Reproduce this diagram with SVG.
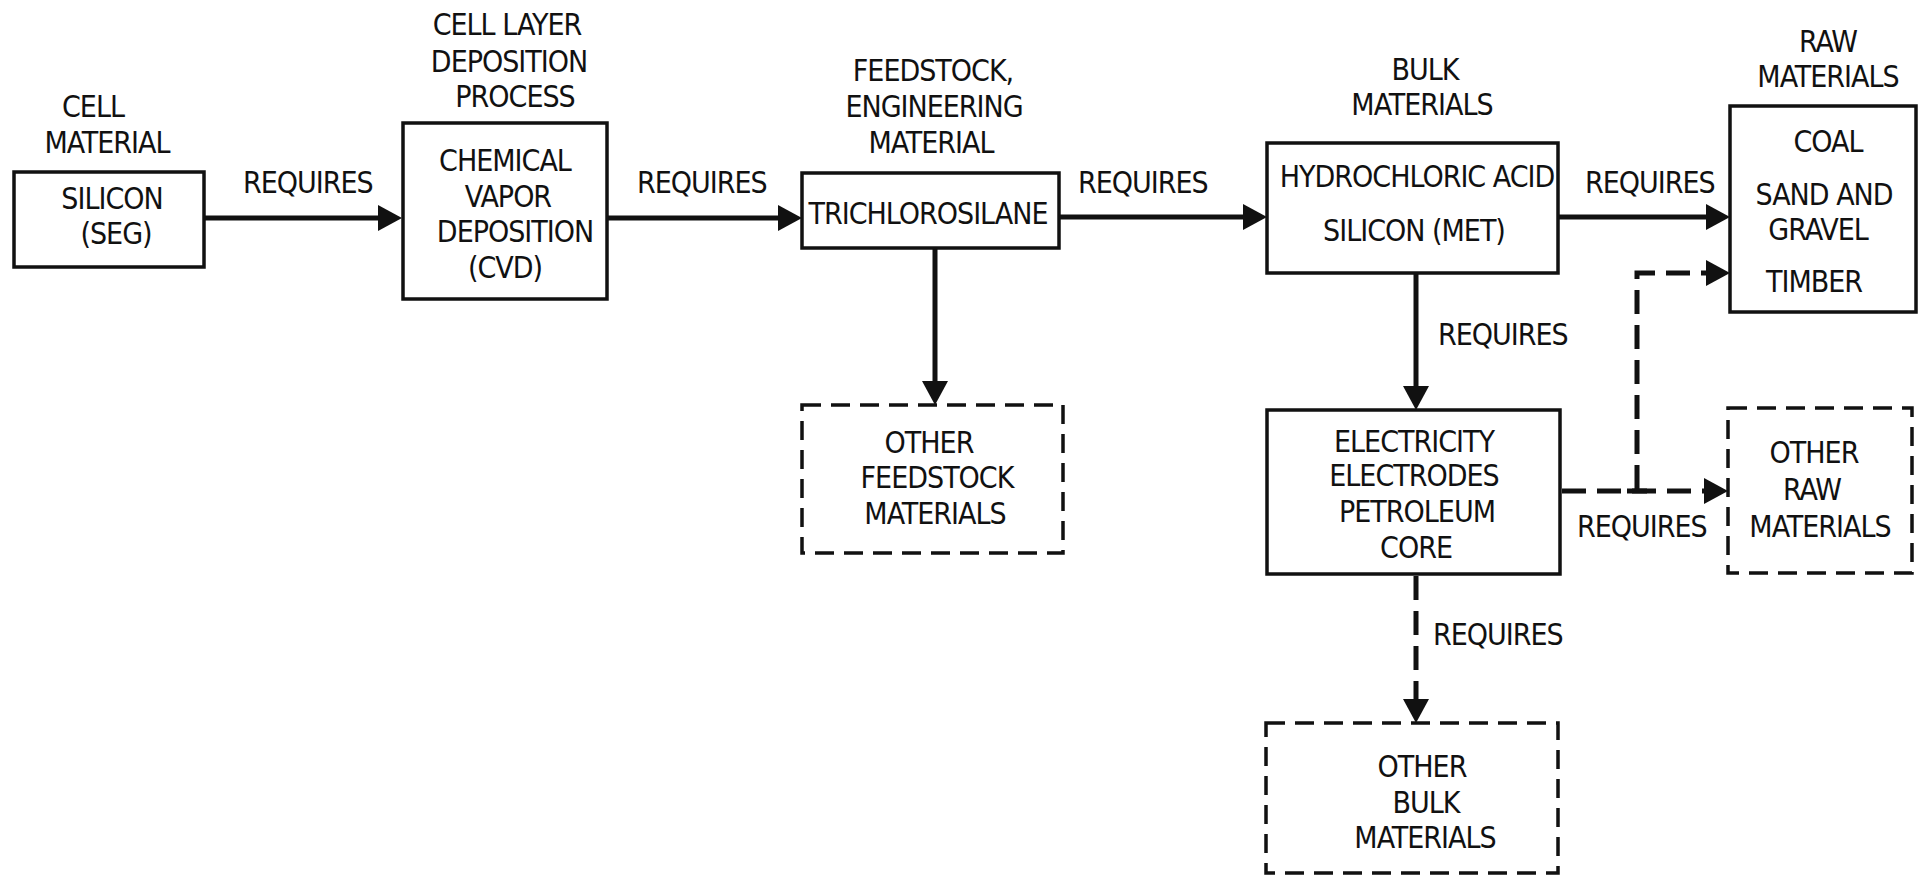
<svg xmlns="http://www.w3.org/2000/svg" width="1922" height="878" viewBox="0 0 1922 878">
  <style>
    text { font-family: "Liberation Sans Narrow", "DejaVu Sans Condensed", "Liberation Sans", sans-serif; font-size: 30px; letter-spacing: -1px; fill: #111; text-anchor: middle; }
    .lbl { text-anchor: start; }
    .box { fill: #fff; stroke: #111; stroke-width: 3.5; }
    .dbox { fill: #fff; stroke: #111; stroke-width: 3.5; stroke-dasharray: 19 10; }
    .conn { fill: none; stroke: #111; stroke-width: 5; }
    .dash { stroke-dasharray: 24 11; }
  </style>
  <defs>
    <marker id="arrow" viewBox="0 0 24 26" refX="4" refY="13" markerWidth="24" markerHeight="26" markerUnits="userSpaceOnUse" orient="auto">
      <path d="M0,0 L24,13 L0,26 Z" fill="#111"/>
    </marker>
  </defs>

  <rect width="1922" height="878" fill="#fff"/>

  <!-- connectors (lines stop 20px short; the marker carries the tip) -->
  <g id="connectors">
    <line class="conn" x1="204" y1="218" x2="382" y2="218" marker-end="url(#arrow)"/>
    <line class="conn" x1="607" y1="218" x2="782" y2="218" marker-end="url(#arrow)"/>
    <line class="conn" x1="1059" y1="217" x2="1247" y2="217" marker-end="url(#arrow)"/>
    <line class="conn" x1="1558" y1="217" x2="1710" y2="217" marker-end="url(#arrow)"/>
    <line class="conn" x1="935" y1="248" x2="935" y2="385" marker-end="url(#arrow)"/>
    <line class="conn" x1="1416" y1="273" x2="1416" y2="390" marker-end="url(#arrow)"/>
    <line class="conn dash" x1="1562" y1="491" x2="1708" y2="491" marker-end="url(#arrow)"/>
    <path class="conn dash" d="M1637,489 L1637,273 L1710,273" marker-end="url(#arrow)"/>
    <line class="conn" x1="1627" y1="491" x2="1647" y2="491"/>
    <line class="conn dash" x1="1416" y1="576" x2="1416" y2="703" marker-end="url(#arrow)"/>

    <text class="lbl" x="243" y="193">REQUIRES</text>
    <text class="lbl" x="637" y="193">REQUIRES</text>
    <text class="lbl" x="1078" y="193">REQUIRES</text>
    <text class="lbl" x="1585" y="193">REQUIRES</text>
    <text class="lbl" x="1438" y="345">REQUIRES</text>
    <text class="lbl" x="1577" y="537">REQUIRES</text>
    <text class="lbl" x="1433" y="645">REQUIRES</text>
  </g>

  <!-- cell material -->
  <g id="cell-material">
    <text x="93" y="117">CELL</text>
    <text x="107" y="153">MATERIAL</text>
    <rect class="box" x="14" y="172" width="190" height="95"/>
    <text x="112" y="209">SILICON</text>
    <text x="116" y="244">(SEG)</text>
  </g>

  <!-- deposition process -->
  <g id="cvd">
    <text x="507" y="35">CELL LAYER</text>
    <text x="509" y="72">DEPOSITION</text>
    <text x="515" y="107">PROCESS</text>
    <rect class="box" x="403" y="123" width="204" height="176"/>
    <text x="505" y="171">CHEMICAL</text>
    <text x="508" y="207">VAPOR</text>
    <text x="515" y="242">DEPOSITION</text>
    <text x="505" y="278">(CVD)</text>
  </g>

  <!-- feedstock -->
  <g id="trichlorosilane">
    <text x="933" y="81">FEEDSTOCK,</text>
    <text x="934" y="117">ENGINEERING</text>
    <text x="931" y="153">MATERIAL</text>
    <rect class="box" x="802" y="173" width="257" height="75"/>
    <text x="928" y="224">TRICHLOROSILANE</text>
  </g>

  <g id="other-feedstock">
    <rect class="dbox" x="802" y="405" width="261" height="148"/>
    <text x="929" y="453">OTHER</text>
    <text x="937" y="488">FEEDSTOCK</text>
    <text x="935" y="524">MATERIALS</text>
  </g>

  <!-- bulk materials -->
  <g id="bulk">
    <text x="1425" y="80">BULK</text>
    <text x="1422" y="115">MATERIALS</text>
    <rect class="box" x="1267" y="143" width="291" height="130"/>
    <text x="1417" y="187">HYDROCHLORIC ACID</text>
    <text x="1414" y="241">SILICON (MET)</text>
  </g>

  <g id="energy">
    <rect class="box" x="1267" y="410" width="293" height="164"/>
    <text x="1414" y="452">ELECTRICITY</text>
    <text x="1414" y="486">ELECTRODES</text>
    <text x="1417" y="522">PETROLEUM</text>
    <text x="1416" y="558">CORE</text>
  </g>

  <g id="other-bulk">
    <rect class="dbox" x="1266" y="723" width="292" height="150"/>
    <text x="1422" y="777">OTHER</text>
    <text x="1426" y="813">BULK</text>
    <text x="1425" y="848">MATERIALS</text>
  </g>

  <!-- raw materials -->
  <g id="raw">
    <text x="1828" y="52">RAW</text>
    <text x="1828" y="87">MATERIALS</text>
    <rect class="box" x="1730" y="106" width="186" height="206"/>
    <text x="1828" y="152">COAL</text>
    <text x="1824" y="205">SAND AND</text>
    <text x="1818" y="240">GRAVEL</text>
    <text x="1814" y="292">TIMBER</text>
  </g>

  <g id="other-raw">
    <rect class="dbox" x="1728" y="408" width="184" height="165"/>
    <text x="1814" y="463">OTHER</text>
    <text x="1812" y="500">RAW</text>
    <text x="1820" y="537">MATERIALS</text>
  </g>
</svg>
